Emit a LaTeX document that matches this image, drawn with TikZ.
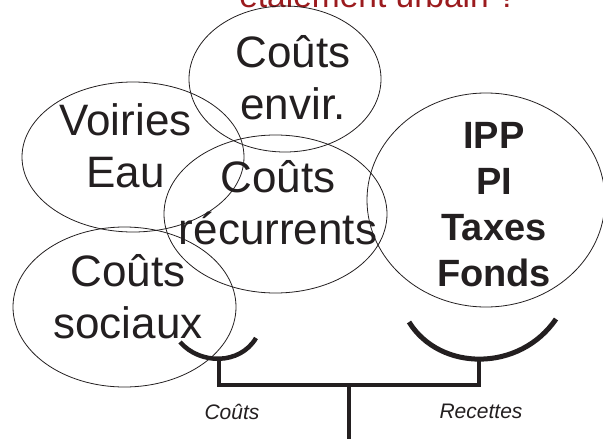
\documentclass[tikz,border=0pt]{standalone}
\usepackage{fontspec}
\setmainfont{Liberation Sans}
\usetikzlibrary{shapes.geometric}
\definecolor{titlered}{RGB}{155,27,30}
\definecolor{ink}{RGB}{35,31,32}
\begin{document}
\begin{tikzpicture}[x=1pt,y=-1pt,
  zone/.style={draw=ink, ellipse, inner sep=0pt, line width=0.8pt},
  bigtext/.style={font=\fontsize{44}{52}\selectfont, align=center, inner sep=0pt, text=ink},
  boldtext/.style={font=\fontsize{38}{46}\selectfont\bfseries, align=center, inner sep=0pt, text=ink},
  sidetext/.style={font=\fontsize{21}{25}\selectfont\itshape, inner sep=0pt, anchor=base, text=ink},
  titletext/.style={font=\fontsize{33.5}{40}\selectfont, inner sep=0pt, anchor=base, text=titlered},
  cup/.style={draw=ink, line width=4.5pt, line cap=butt},
  beam/.style={draw=ink, line width=4pt, line join=miter, line cap=butt}]
\useasboundingbox (0,0) rectangle (603,439);

% title, partly above the page edge
\node[titletext] (title) at (378,7) {étalement urbain ?};

% cost and revenue zones
\node[zone, minimum width=192pt, minimum height=146pt] (env) at (285,79) {};
\node[zone, minimum width=222pt, minimum height=150pt] (voi) at (133,157) {};
\node[zone, minimum width=223pt, minimum height=158pt] (rec) at (275.5,214) {};
\node[zone, minimum width=223pt, minimum height=160pt] (soc) at (124.5,307) {};
\node[zone, minimum width=238pt, minimum height=214pt] (rev) at (486,200) {};

\node[bigtext] (envt) at (293,77.7) {Coûts\\envir.};
\node[bigtext] (voit) at (125.5,145.3) {Voiries\\Eau};
\node[bigtext] (rect) at (278,202.7) {Coûts\\récurrents};
\node[bigtext] (soct) at (128,296.2) {Coûts\\sociaux};
\node[boldtext] (revt) at (494,204.4) {IPP\\PI\\Taxes\\Fonds};

% balance
\coordinate (cl1) at (180,342);
\coordinate (cl2) at (256,338);
\coordinate (clb) at (219,359);
\coordinate (cr1) at (409,322);
\coordinate (cr2) at (556,319);
\coordinate (crb) at (479,360);
\coordinate (jl) at (219,385);
\coordinate (jr) at (479,385);
\coordinate (pivot) at (349,385);
\coordinate (foot) at (349,445);

\draw[cup] (cl1) .. controls (200,365) and (240,365) .. (cl2);
\draw[cup, line width=5pt] (cr1) .. controls (440,372) and (520,372) .. (cr2);
\draw[beam] (clb) -- (jl) -- (jr) -- (crb);
\draw[beam] (pivot) -- (foot);

\node[sidetext] (lc) at (232,419) {Coûts};
\node[sidetext] (lr) at (481,418) {Recettes};
\end{tikzpicture}
\end{document}
